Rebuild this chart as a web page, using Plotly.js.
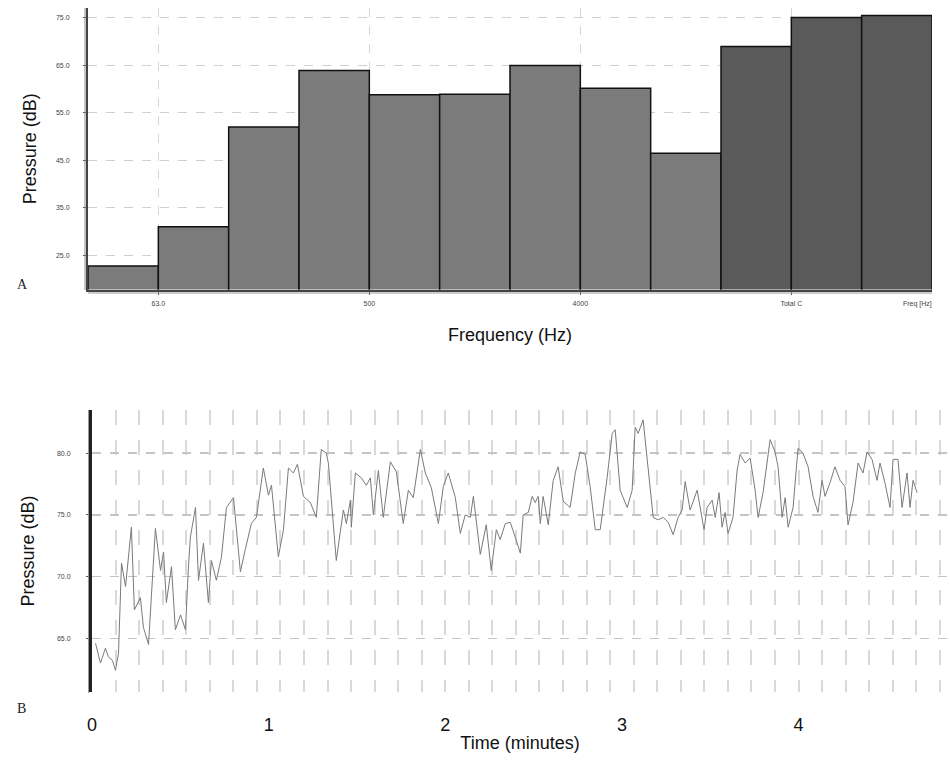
<!DOCTYPE html>
<html>
<head>
<meta charset="utf-8">
<script src="https://cdn.plot.ly/plotly-3.0.1.min.js"></script>
<style>html,body{margin:0;padding:0;background:#fff}#chart{width:950px;height:763px}</style>
</head>
<body>
<div id="chart"></div>
<script>
// ---- Panel A: octave band spectrum ----
const bandCategories = ['31.5','63.0','125','250','500','1000','2000','4000','8000','Total A','Total C','Total Z'];
const bandPressure   = [22.7, 31.0, 52.0, 63.9, 58.8, 58.9, 65.0, 60.2, 46.5, 69.0, 75.1, 75.5];
const bandIsTotal    = [false,false,false,false,false,false,false,false,false,true,true,true];
const bandTickLabels = ['63.0','500','4000','Total C'];
const bandYTicks     = [25, 35, 45, 55, 65, 75];

// ---- Panel B: pressure over time ----
const timeMinutes = [0.020,0.048,0.076,0.093,0.116,0.133,0.150,0.167,0.190,0.223,0.240,0.274,0.291,0.320,0.359,0.388,0.405,0.421,0.450,0.472,0.501,0.529,0.546,0.557,0.586,0.603,0.631,0.659,0.676,0.704,0.733,0.761,0.801,0.840,0.868,0.902,0.931,0.970,0.999,1.016,1.055,1.084,1.112,1.140,1.163,1.197,1.236,1.270,1.298,1.327,1.338,1.383,1.423,1.440,1.463,1.468,1.491,1.525,1.553,1.576,1.593,1.621,1.649,1.689,1.723,1.762,1.791,1.819,1.859,1.887,1.921,1.961,1.989,2.017,2.057,2.085,2.113,2.142,2.159,2.198,2.232,2.260,2.289,2.311,2.340,2.368,2.396,2.425,2.441,2.470,2.492,2.509,2.526,2.538,2.554,2.583,2.611,2.639,2.668,2.707,2.736,2.764,2.792,2.820,2.849,2.877,2.917,2.945,2.962,2.990,3.030,3.058,3.075,3.092,3.120,3.143,3.177,3.205,3.234,3.262,3.290,3.318,3.341,3.358,3.386,3.426,3.454,3.465,3.482,3.511,3.528,3.550,3.567,3.584,3.601,3.629,3.652,3.669,3.698,3.726,3.754,3.771,3.799,3.822,3.839,3.867,3.884,3.907,3.924,3.941,3.969,3.997,4.025,4.054,4.082,4.110,4.133,4.150,4.178,4.206,4.235,4.263,4.280,4.308,4.337,4.365,4.388,4.416,4.444,4.461,4.489,4.518,4.535,4.563,4.586,4.614,4.631,4.648,4.671];
const pressureDb  = [64.6,63.0,64.2,63.5,63.2,62.4,63.8,71.1,69.2,74.0,67.3,68.3,65.9,64.5,73.9,70.5,72.0,67.9,70.8,65.7,66.9,65.7,70.8,73.2,75.6,69.7,72.7,67.9,71.3,69.7,71.6,75.6,76.4,70.4,72.2,74.3,74.8,78.8,76.6,77.4,71.6,73.8,78.8,78.4,79.1,76.5,76.0,74.8,80.3,80.0,79.2,71.3,75.4,74.3,76.2,74.0,78.4,78.0,77.4,78.0,75.0,78.6,74.8,79.3,78.5,74.3,77.0,76.4,80.3,78.4,77.2,74.3,77.3,78.4,76.4,73.5,75.0,74.8,76.5,71.8,74.2,70.5,73.8,73.0,74.3,74.4,73.2,71.9,75.0,75.2,76.5,76.0,76.5,74.3,76.5,74.2,77.8,78.9,76.1,75.6,78.4,80.1,79.9,77.3,73.8,73.8,78.1,81.6,81.9,77.0,75.6,77.0,82.1,81.6,82.7,79.7,74.8,74.6,74.8,74.4,73.4,74.8,75.4,77.7,75.4,77.0,74.8,73.8,75.6,76.2,74.8,76.8,74.0,75.2,73.5,74.8,78.6,79.9,79.2,79.6,77.0,74.8,76.8,79.5,81.1,80.1,78.9,74.8,76.4,74.0,75.6,80.4,80.0,78.9,76.5,75.2,77.8,76.5,77.6,78.9,77.8,77.3,74.2,76.0,79.2,78.4,80.1,79.5,77.8,79.2,77.6,75.6,79.5,79.5,75.6,78.4,75.6,77.8,76.8];
const timeTickVals  = [0, 1, 2, 3, 4];
const timeYTicks    = [65, 70, 75, 80];
const gridStepMinutes = 8 / 60; // vertical grid every 8 s

const W = 950, H = 763;
const px = v => v / W;
const py = v => 1 - v / H;

const bandX = bandCategories.map((c, i) => i + 0.5);
const bandTickVals = bandTickLabels.map(l => bandCategories.indexOf(l));
const bandColors = bandIsTotal.map(t => t ? '#5a5a5a' : '#7b7b7b');

const smallTick = {family: 'Liberation Sans, Arial, sans-serif', size: 7, color: '#444'};
const titleFont = {family: 'Liberation Sans, Arial, sans-serif', size: 18, color: '#111'};

const traces = [
  {
    type: 'bar', x: bandX, y: bandPressure, width: 1,
    marker: {color: bandColors, line: {color: '#111', width: 1.5}},
    xaxis: 'x', yaxis: 'y', hoverinfo: 'skip'
  },
  {
    type: 'scatter', mode: 'lines', x: timeMinutes, y: pressureDb,
    line: {color: '#7a7a7a', width: 1},
    xaxis: 'x2', yaxis: 'y2', hoverinfo: 'skip'
  }
];

const layout = {
  width: W, height: H,
  margin: {l: 0, r: 0, t: 0, b: 0},
  paper_bgcolor: '#fff', plot_bgcolor: '#fff',
  showlegend: false,
  bargap: 0,
  xaxis: {
    domain: [px(88), px(932)], anchor: 'y',
    range: [0, 12], tickmode: 'array', tickvals: bandTickVals, ticktext: bandTickLabels,
    tickfont: smallTick, ticks: 'outside', ticklen: 3, tickcolor: '#555', ticklabelstandoff: 3,
    showgrid: true, gridcolor: '#d6d6d6', griddash: 'dash', gridwidth: 1,
    showline: true, linecolor: '#444', linewidth: 2, zeroline: false,
    title: {text: 'Frequency (Hz)', font: titleFont, standoff: 22}
  },
  yaxis: {
    domain: [py(289.5), py(8)], anchor: 'x',
    range: [17.75, 77.1], tickmode: 'array', tickvals: bandYTicks,
    ticktext: bandYTicks.map(v => v.toFixed(1)),
    tickfont: smallTick, ticks: 'outside', ticklen: 3, tickcolor: '#555', ticklabelstandoff: 12,
    showgrid: true, gridcolor: '#cfcfcf', griddash: 'dash', gridwidth: 1,
    showline: true, linecolor: '#444', linewidth: 2, zeroline: false,
    title: {text: 'Pressure (dB)', font: titleFont, standoff: 15}
  },
  xaxis2: {
    domain: [px(92), px(948)], anchor: 'y2',
    range: [0, 4.846], tickmode: 'array', tickvals: timeTickVals,
    ticktext: timeTickVals.map(String),
    tickfont: {family: 'Liberation Sans, Arial, sans-serif', size: 18, color: '#111'},
    ticks: 'outside', ticklen: 16, tickcolor: 'rgba(0,0,0,0)',
    showgrid: false, zeroline: false, showline: false,
    minor: {dtick: gridStepMinutes, tick0: 0, showgrid: true, gridcolor: '#d9d9d9', griddash: 'longdash', gridwidth: 2},
    title: {text: 'Time (minutes)', font: titleFont, standoff: 2}
  },
  yaxis2: {
    domain: [py(692), py(410)], anchor: 'x2',
    range: [60.65, 83.5], tickmode: 'array', tickvals: timeYTicks,
    ticktext: timeYTicks.map(v => v.toFixed(1)),
    tickfont: smallTick, ticks: 'outside', ticklen: 3, tickcolor: '#555', ticklabelstandoff: 14,
    showgrid: true, gridcolor: '#c4c4c4', griddash: 'dash', gridwidth: 1.5,
    showline: true, linecolor: '#222', linewidth: 3, zeroline: false,
    title: {text: 'Pressure (dB)', font: titleFont, standoff: 18}
  },
  shapes: [
    {type: 'line', xref: 'paper', yref: 'paper', x0: px(85), x1: px(85), y0: py(290), y1: py(8), line: {color: '#888', width: 1}},
    {type: 'line', xref: 'paper', yref: 'paper', x0: px(88), x1: px(932), y0: py(293), y1: py(293), line: {color: '#999', width: 1}},
    {type: 'line', xref: 'paper', yref: 'paper', x0: px(88.5), x1: px(88.5), y0: py(693), y1: py(410), line: {color: '#999', width: 1}}
  ],
  annotations: [
    {text: 'Freq [Hz]', xref: 'x', yref: 'paper', x: 11.8, y: py(304), showarrow: false, font: smallTick, xanchor: 'center', yanchor: 'middle'},
    {text: 'A', xref: 'paper', yref: 'paper', x: px(15), y: py(284), showarrow: false, font: {family: 'Liberation Serif, Times New Roman, serif', size: 14, color: '#222'}},
    {text: 'B', xref: 'paper', yref: 'paper', x: px(15), y: py(718), showarrow: false, font: {family: 'Liberation Serif, Times New Roman, serif', size: 14, color: '#222'}}
  ]
};

Plotly.newPlot('chart', traces, layout, {displayModeBar: false, staticPlot: true});
</script>
</body>
</html>
